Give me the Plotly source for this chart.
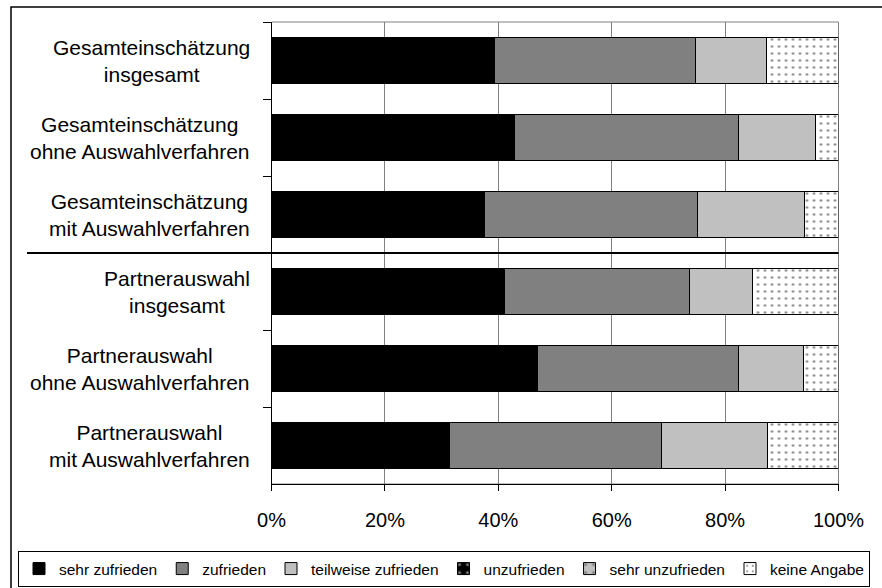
import plotly.graph_objects as go

# ---- data ----
categories = [
    "Gesamteinschätzung<br>insgesamt",
    "Gesamteinschätzung<br>ohne Auswahlverfahren",
    "Gesamteinschätzung<br>mit Auswahlverfahren",
    "Partnerauswahl<br>insgesamt",
    "Partnerauswahl<br>ohne Auswahlverfahren",
    "Partnerauswahl<br>mit Auswahlverfahren",
]
sehr_zufrieden = [39.4, 42.8, 37.5, 41.1, 47.0, 31.4]
zufrieden = [35.3, 39.5, 37.6, 32.6, 35.3, 37.4]
teilweise_zufrieden = [12.6, 13.6, 18.9, 11.1, 11.5, 18.6]
unzufrieden = [0, 0, 0, 0, 0, 0]
sehr_unzufrieden = [0, 0, 0, 0, 0, 0]
keine_angabe = [12.7, 4.1, 6.0, 15.2, 6.2, 12.6]
series_names = ["sehr zufrieden", "zufrieden", "teilweise zufrieden",
                "unzufrieden", "sehr unzufrieden", "keine Angabe"]
x_tickvals = [0, 20, 40, 60, 80, 100]
x_ticktext = ["0%", "20%", "40%", "60%", "80%", "100%"]

FONT = "Liberation Sans, Arial, sans-serif"
W, H = 882, 588

series_values = [sehr_zufrieden, zufrieden, teilweise_zufrieden,
                 unzufrieden, sehr_unzufrieden, keine_angabe]
fills = ["#000000", "#808080", "#C0C0C0", "#000000", "#C0C0C0", "#FFFFFF"]
patterns = [
    None, None, None,
    dict(shape=".", fgcolor="#FFFFFF", bgcolor="#000000", size=10, solidity=0.12, fillmode="overlay"),
    dict(shape=".", fgcolor="#404040", bgcolor="#C0C0C0", size=10, solidity=0.12, fillmode="overlay"),
    dict(shape=".", fgcolor="#000000", bgcolor="#FFFFFF", size=7, solidity=0.1, fillmode="overlay"),
]

# plot area in pixels -> paper fractions (margins are zero)
px_l, px_r, px_t, px_b = 271.5, 838.5, 22, 484
dom_x = [px_l / W, px_r / W]
dom_y = [1 - px_b / H, 1 - px_t / H]

fig = go.Figure()
for name, vals, col, pat in zip(series_names, series_values, fills, patterns):
    marker = dict(color=col, line=dict(color="#000000", width=1))
    if pat is not None:
        marker["pattern"] = pat
    fig.add_trace(go.Bar(
        y=categories, x=vals, name=name, orientation="h",
        marker=marker, hoverinfo="name+x",
    ))

# category labels (right-aligned block, centered lines)
for cat in categories:
    fig.add_annotation(
        text=cat, xref="paper", yref="y", x=252 / W, y=cat,
        xanchor="right", yanchor="middle", align="center", showarrow=False,
        font=dict(family=FONT, size=21, color="#000000"),
    )

fig.update_layout(
    width=W, height=H,
    margin=dict(l=0, r=0, t=0, b=0, pad=0, autoexpand=False),
    paper_bgcolor="#FFFFFF", plot_bgcolor="#FFFFFF",
    barmode="stack", bargap=0.39,
    font=dict(family=FONT, size=20, color="#000000"),
    showlegend=True,
    legend=dict(
        orientation="h", x=18 / W, y=1 - 551 / H, xanchor="left", yanchor="top",
        font=dict(family=FONT, size=15.5, color="#000000"),
        bordercolor="#000000", borderwidth=1, bgcolor="#FFFFFF",
        itemwidth=30, traceorder="normal", itemclick=False,
    ),
    xaxis=dict(
        domain=dom_x,
        range=[0, 100], tickvals=x_tickvals, ticktext=x_ticktext,
        showgrid=True, gridcolor="#808080", gridwidth=1,
        showline=True, linecolor="#000000", linewidth=1,
        ticks="outside", ticklen=6, tickcolor="#000000",
        ticklabelstandoff=12, zeroline=False,
        tickfont=dict(family=FONT, size=20, color="#000000"),
        fixedrange=True,
    ),
    yaxis=dict(
        domain=dom_y,
        type="category", autorange="reversed",
        showgrid=False, showticklabels=False,
        tickson="boundaries", ticks="outside", ticklen=8, tickcolor="#000000",
        showline=True, linecolor="#000000", linewidth=1, zeroline=False,
        fixedrange=True,
    ),
    shapes=[
        # gray plot-area frame
        dict(type="rect", xref="paper", yref="paper",
             x0=dom_x[0], x1=dom_x[1], y0=dom_y[0], y1=dom_y[1],
             line=dict(color="#808080", width=1), layer="below"),
        # outer chart frame
        dict(type="rect", xref="paper", yref="paper",
             x0=11 / W, x1=1.05, y0=-0.05, y1=1 - 7 / H,
             line=dict(color="#000000", width=1.5), fillcolor="rgba(0,0,0,0)"),
        # separator between the two groups
        dict(type="line", xref="paper", yref="paper",
             x0=27 / W, x1=dom_x[1], y0=(dom_y[0] + dom_y[1]) / 2, y1=(dom_y[0] + dom_y[1]) / 2,
             line=dict(color="#000000", width=2)),
    ],
)

fig.write_html("out.html", post_script="document.body.style.margin='0';",
               config={"displayModeBar": False})
